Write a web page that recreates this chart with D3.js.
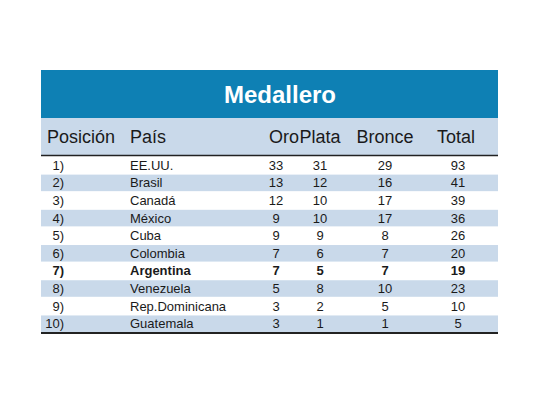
<!DOCTYPE html>
<html>
<head>
<meta charset="utf-8">
<script src="https://d3js.org/d3.v7.min.js"></script>
<style>
body { margin: 0; background: #fff; }
text { font-family: "Liberation Sans Narrow", "Liberation Sans", sans-serif; }
</style>
</head>
<body>
<script>
var posiciones = ["1)","2)","3)","4)","5)","6)","7)","8)","9)","10)"];
var paises = ["EE.UU.","Brasil","Canadá","México","Cuba","Colombia","Argentina","Venezuela","Rep.Dominicana","Guatemala"];
var oro = [33,13,12,9,9,7,7,5,3,3];
var plata = [31,12,10,10,9,6,5,8,2,1];
var bronce = [29,16,17,17,8,7,7,10,5,1];
var total = [93,41,39,36,26,20,19,23,10,5];
var columnas = ["Posición","País","Oro","Plata","Bronce","Total"];

var w = 540, h = 405;
var svg = d3.select("body").append("svg").attr("width", w).attr("height", h);
var left = 41, right = 498;

svg.append("rect").attr("x", left).attr("y", 70).attr("width", right - left).attr("height", 48).attr("fill", "#0e80b4");
svg.append("text").attr("x", 280).attr("y", 103).attr("text-anchor", "middle")
  .attr("fill", "#fff").attr("font-size", 24).attr("font-weight", "bold").text("Medallero");

svg.append("rect").attr("x", left).attr("y", 118).attr("width", right - left).attr("height", 37).attr("fill", "#c9d9ea");
var hx = [47, 130, 284, 320, 385, 456];
var ha = ["start","start","middle","middle","middle","middle"];
svg.selectAll(".hd").data(columnas).enter().append("text")
  .attr("x", function(d, i) { return hx[i]; }).attr("y", 143)
  .attr("text-anchor", function(d, i) { return ha[i]; })
  .attr("font-size", 18).attr("fill", "#1a1a1a").text(function(d) { return d; });
svg.append("line").attr("x1", left).attr("x2", right).attr("y1", 155.5).attr("y2", 155.5)
  .attr("stroke", "#222").attr("stroke-width", 1.5);

var y = d3.scaleBand().domain(d3.range(10)).range([157, 332]).paddingInner(0.06);
var g = svg.selectAll(".row").data(d3.range(10)).enter().append("g");
g.append("rect").attr("x", left).attr("width", right - left)
  .attr("y", function(i) { return y(i); }).attr("height", y.bandwidth())
  .attr("fill", function(i) { return i % 2 ? "#c9d9ea" : "#fff"; });
var cols = [
  {v: posiciones, x: 64, a: "end"},
  {v: paises, x: 130, a: "start"},
  {v: oro, x: 276, a: "middle"},
  {v: plata, x: 320, a: "middle"},
  {v: bronce, x: 385, a: "middle"},
  {v: total, x: 458, a: "middle"}
];
cols.forEach(function(c) {
  g.append("text").attr("x", c.x).attr("y", function(i) { return y(i) + y.bandwidth() / 2 + 4.5; })
    .attr("text-anchor", c.a).attr("font-size", 13).attr("fill", "#1a1a1a")
    .attr("font-weight", function(i) { return i === 6 ? "bold" : "normal"; })
    .text(function(i) { return c.v[i]; });
});
svg.append("line").attr("x1", left).attr("x2", right).attr("y1", 333).attr("y2", 333)
  .attr("stroke", "#222").attr("stroke-width", 2);
</script>
</body>
</html>
